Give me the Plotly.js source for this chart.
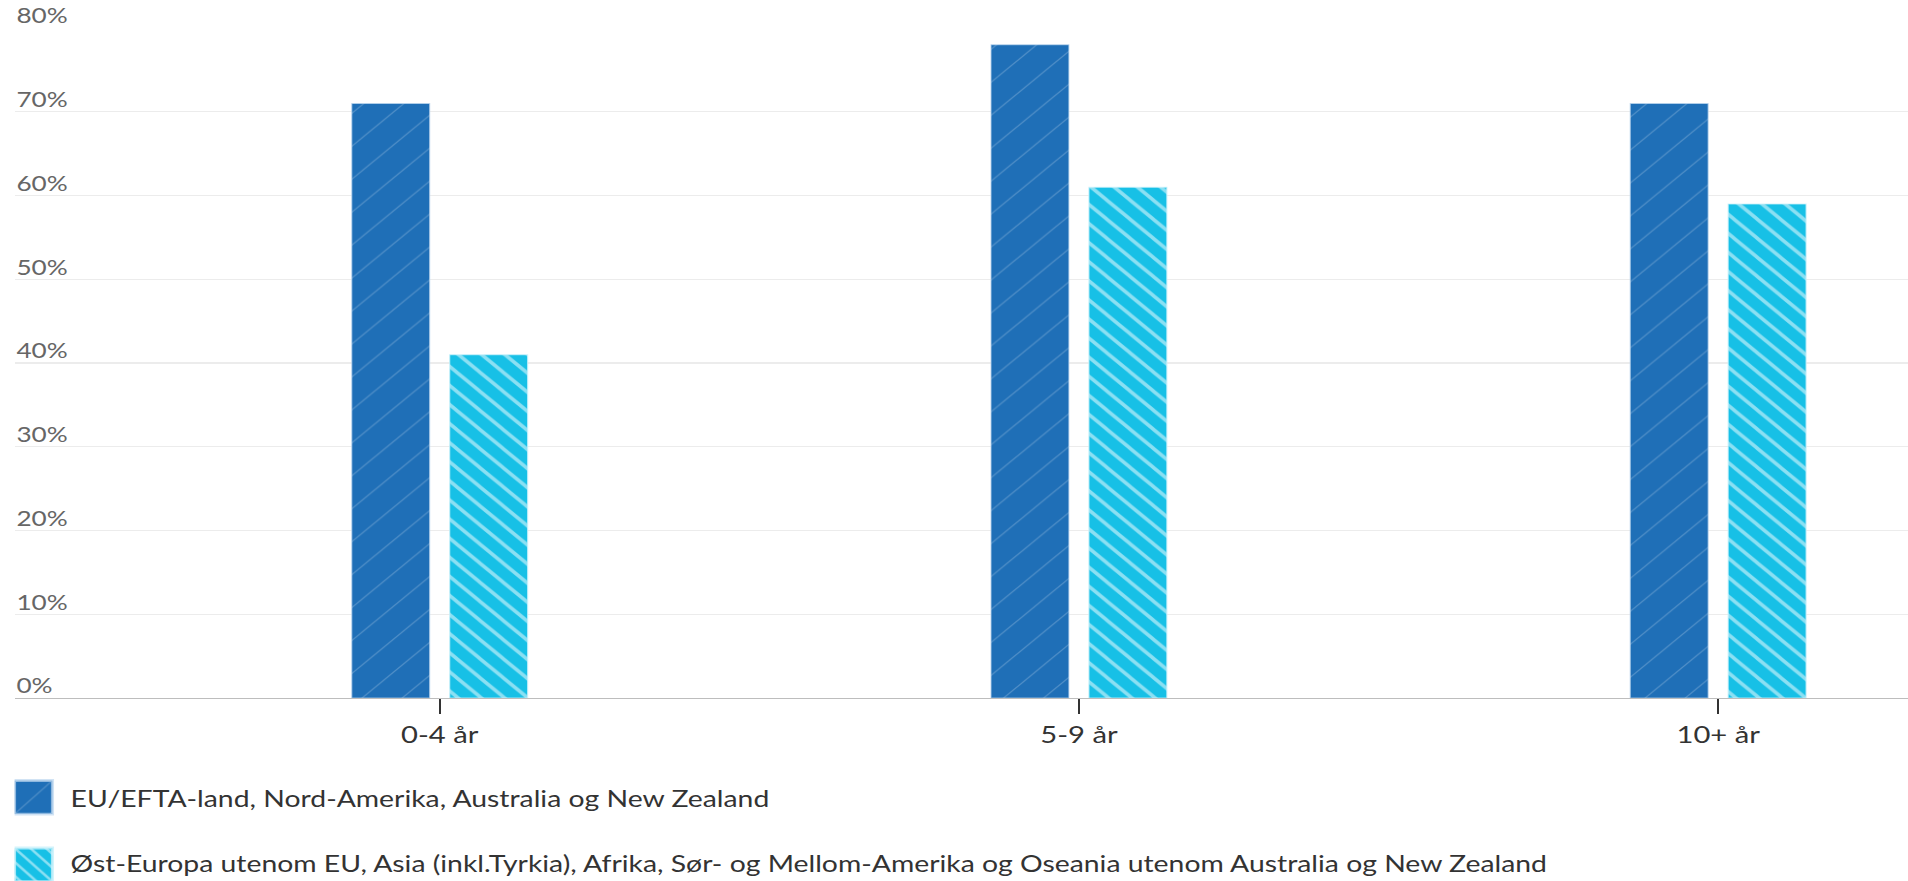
<!DOCTYPE html>
<html><head><meta charset="utf-8">
<script src="https://cdn.plot.ly/plotly-3.0.1.min.js"></script>
<style>
html,body{margin:0;padding:0;overflow:hidden;background:#fff;}
#wrap{width:1908px;height:881px;overflow:hidden;}
#chart{width:1568px;height:881px;transform:scale(1.21684,1);transform-origin:0 0;}
</style></head><body>
<div id="wrap"><div id="chart"></div></div>
<script>
const categories = ['0-4 år', '5-9 år', '10+ år'];
const seriesNames = [
  'EU/EFTA-land, Nord-Amerika, Australia og New Zealand',
  'Øst-Europa utenom EU, Asia (inkl.Tyrkia), Afrika, Sør- og Mellom-Amerika og Oseania utenom Australia og New Zealand'
];
const euEftaValues = [71, 78, 71];
const ostEuropaValues = [41, 61, 59];
const yTickValues = [0, 10, 20, 30, 40, 50, 60, 70, 80];
const yTickLabels = ['0%', '10%', '20%', '30%', '40%', '50%', '60%', '70%', '80%'];

const SX = 1.21684;

const traces = [
  {
    type: 'bar', x: categories, y: euEftaValues, name: seriesNames[0], legendgroup: 'a',
    marker: {
      color: '#1f6fb7',
      line: {color: 'rgba(190,215,240,0.7)', width: 1},
      pattern: {shape: '/', fillmode: 'overlay', size: 23.3, solidity: 0.05, fgcolor: '#ffffff', fgopacity: 0.22}
    },
    hoverinfo: 'skip'
  },
  {
    type: 'bar', x: categories, y: ostEuropaValues, name: seriesNames[1], legendgroup: 'b',
    marker: {
      color: '#17c0e6',
      line: {color: 'rgba(200,240,250,0.8)', width: 1},
      pattern: {shape: '\\', fillmode: 'overlay', size: 13.5, solidity: 0.24, fgcolor: '#ffffff', fgopacity: 0.5}
    },
    hoverinfo: 'skip'
  }
];

const layout = {
  width: 1568, height: 881,
  margin: {l: 11.5, r: 0, t: 28, b: 183, pad: 0, autoexpand: false},
  paper_bgcolor: '#ffffff', plot_bgcolor: '#ffffff',
  barmode: 'group', bargap: 0.6936, bargroupgap: 0.204,
  showlegend: true,
  xaxis: {
    type: 'category', range: [-0.665, 2.297],
    showline: true, linecolor: '#bdbdbd', linewidth: 1.4,
    ticks: 'outside', ticklen: 15, tickwidth: 1.7, tickcolor: '#333333',
    ticklabelstandoff: 0,
    tickfont: {family: 'Lato', size: 24, color: '#333333'},
    showgrid: false, zeroline: false, fixedrange: true
  },
  yaxis: {
    range: [0, 80], tickmode: 'array', tickvals: yTickValues, ticktext: yTickLabels,
    showgrid: true, gridcolor: '#ececec', gridwidth: 1.3,
    zeroline: false, showline: false, ticks: '',
    ticklabelposition: 'inside top', ticklabeloverflow: 'allow',
    tickfont: {family: 'Lato', size: 21.5, color: '#666666'},
    fixedrange: true
  },
  legend: {
    orientation: 'v', x: 0, xanchor: 'left', y: -0.1168, yanchor: 'top',
    font: {family: 'Lato', size: 23.3, color: '#333333'},
    tracegroupgap: 32, itemwidth: 36, bgcolor: 'rgba(0,0,0,0)',
    itemclick: false, itemdoubleclick: false
  }
};

Plotly.newPlot('chart', traces, layout, {displayModeBar: false, staticPlot: true}).then(function () {
  // enlarge legend swatches to the reference's square size
  const targetLeft = 14.5, targetTops = [780.5, 848];
  const legendPatternScale = [0.8, 0.35];
  document.querySelectorAll('#chart .legend .legendpoints path').forEach(function (p, i) {
    const orig = p.getAttribute('transform') || '';
    p.setAttribute('transform', orig + ' scale(2.6,2.8)');
    const r = p.getBoundingClientRect();
    const dx = (targetLeft - r.left) / SX;
    const dy = (targetTops[i] !== undefined ? targetTops[i] : r.top) - r.top;
    p.setAttribute('transform', orig + ' translate(' + dx + ',' + dy + ') scale(2.6,2.8)');
    const m = (p.style.fill || '').match(/#([^"')]+)/);
    if (m) {
      const pat = document.getElementById(m[1]);
      if (pat && legendPatternScale[i] !== undefined) pat.setAttribute('patternTransform', 'scale(' + legendPatternScale[i] + ')');
    }
  });
  // nudge y tick labels to sit like the reference
  document.querySelectorAll('#chart .ytick text').forEach(function (t) {
    const y = parseFloat(t.getAttribute('y') || '0');
    const x = parseFloat(t.getAttribute('x') || '0');
    t.setAttribute('y', y + 3);
    t.setAttribute('x', x - 1.5);
  });
});
</script>
</body></html>
